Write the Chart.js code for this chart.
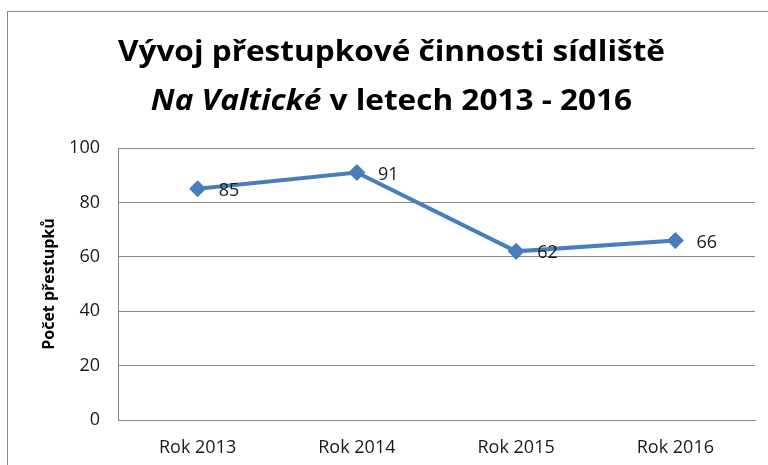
<!DOCTYPE html>
<html>
<head>
<meta charset="utf-8">
<script src="https://cdn.jsdelivr.net/npm/chart.js@4"></script>
<style>
  html, body { margin: 0; padding: 0; background: #fff; }
  #wrap { position: relative; width: 768px; height: 465px; }
</style>
</head>
<body>
<div id="wrap"><canvas id="chart" width="768" height="465"></canvas></div>
<script>
const years = ['Rok 2013', 'Rok 2014', 'Rok 2015', 'Rok 2016'];
const offences = [85, 91, 62, 66];
const yTicks = [0, 20, 40, 60, 80, 100];
const titleLine1 = 'Vývoj přestupkové činnosti sídliště';
const titleItalic = 'Na Valtické';
const titleRest = ' v letech 2013 - 2016';
const yTitle = 'Počet přestupků';

const FONT = '"Open Sans", Lato, sans-serif';
const lineBlue = '#4A7EBB';
const gridGrey = '#868686';
const textDark = '#1a1a1a';

// frame + two-line title with the italic place name
const decorPlugin = {
    id: 'decor',
    beforeDraw(chart) {
        const ctx = chart.ctx;
        ctx.save();
        ctx.strokeStyle = gridGrey;
        ctx.lineWidth = 1;
        ctx.strokeRect(7.5, 11.5, 800, 500);
        ctx.restore();
    },
    afterDraw(chart) {
        const ctx = chart.ctx;
        const cx = 391.5;
        const fNorm = 'bold 29px ' + FONT;
        const fItal = 'italic bold 29px ' + FONT;
        ctx.save();
        ctx.fillStyle = '#000';
        ctx.textBaseline = 'alphabetic';
        ctx.textAlign = 'left';

        ctx.font = fNorm;
        const w0 = ctx.measureText(titleLine1).width;
        const sx = 547 / w0; // squeeze/stretch to the reference width

        ctx.save();
        ctx.translate(cx - 547 / 2, 61);
        ctx.scale(sx, 1);
        ctx.fillText(titleLine1, 0, 0);
        ctx.restore();

        ctx.font = fItal;
        const w1 = ctx.measureText(titleItalic).width;
        ctx.font = fNorm;
        const w2 = ctx.measureText(titleRest).width;
        const total = (w1 + w2) * sx;
        ctx.save();
        ctx.translate(cx - total / 2, 110);
        ctx.scale(sx, 1);
        ctx.font = fItal;
        ctx.fillText(titleItalic, 0, 0);
        ctx.font = fNorm;
        ctx.fillText(titleRest, w1, 0);
        ctx.restore();
        ctx.restore();
    }
};

// value labels to the right of each marker
const labelPlugin = {
    id: 'valueLabels',
    afterDatasetsDraw(chart) {
        const ctx = chart.ctx;
        const meta = chart.getDatasetMeta(0);
        ctx.save();
        ctx.font = '18px ' + FONT;
        ctx.fillStyle = textDark;
        ctx.textAlign = 'left';
        ctx.textBaseline = 'middle';
        meta.data.forEach((pt, i) => {
            ctx.fillText(String(offences[i]), pt.x + 21, pt.y + 2);
        });
        ctx.restore();
    }
};

new Chart(document.getElementById('chart').getContext('2d'), {
    type: 'line',
    data: {
        labels: years,
        datasets: [{
            label: yTitle,
            data: offences,
            borderColor: lineBlue,
            backgroundColor: lineBlue,
            borderWidth: 4,
            tension: 0,
            pointStyle: 'rectRot',
            pointRadius: 7.5,
            pointBackgroundColor: lineBlue,
            pointBorderColor: lineBlue,
            pointBorderWidth: 1.5,
        }],
    },
    options: {
        responsive: false,
        animation: false,
        layout: { padding: { left: 0, top: 148, right: 13, bottom: 0 } },
        plugins: {
            legend: { display: false },
            tooltip: { enabled: false },
            title: { display: false },
        },
        scales: {
            x: {
                offset: true,
                grid: { display: false, drawTicks: false },
                border: { display: true, color: gridGrey, width: 1 },
                ticks: { color: textDark, padding: 17, font: { family: FONT, size: 18 } },
                afterFit: s => { s.height = 45; },
            },
            y: {
                min: 0,
                max: 100,
                afterBuildTicks: s => { s.ticks = yTicks.map(v => ({ value: v })); },
                grid: { color: gridGrey, drawTicks: false },
                border: { display: true, color: gridGrey, width: 1 },
                ticks: { color: textDark, padding: 18, font: { family: FONT, size: 18 } },
                title: {
                    display: true,
                    text: yTitle,
                    color: '#000',
                    font: { family: FONT, size: 16, weight: 'bold' },
                    padding: { top: 40, bottom: 0 },
                },
                afterFit: s => { s.width = 118; },
            },
        },
    },
    plugins: [decorPlugin, labelPlugin],
});
</script>
</body>
</html>
